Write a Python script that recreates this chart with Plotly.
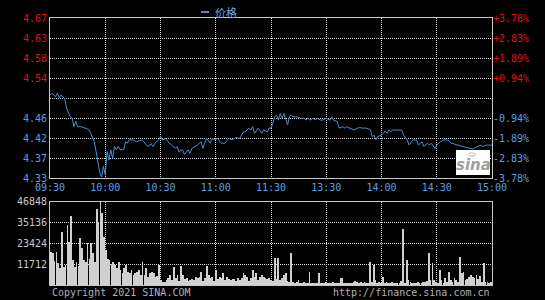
import plotly.graph_objects as go

# ---------------- data ----------------
price_minute = [0, 1, 3, 4, 5, 6, 8, 9, 11, 12, 13, 14, 15, 17, 19, 21, 22, 24, 25, 26, 27, 28, 29, 30,
                31, 32, 33, 34, 35, 36, 37, 38, 40, 41, 42, 43, 45, 47, 50, 51, 53, 55, 56, 57, 59, 60,
                61, 63, 64, 66, 68, 69, 70, 72, 73, 75, 76, 77, 79, 80, 82, 83, 84, 85, 87, 88, 89, 91,
                93, 95, 97, 99, 101, 103, 105, 106, 108, 109, 110, 111, 113, 115, 116, 118, 119, 120,
                121, 122, 123, 124, 125, 126, 127, 128, 129, 130, 131, 132, 134, 136, 138, 139, 140,
                141, 143, 144, 145, 147, 148, 150, 152, 153, 154, 156, 157, 159, 160, 161, 163, 165,
                167, 168, 170, 172, 174, 175, 176, 177, 178, 180, 181, 182, 183, 184, 185, 186, 189,
                191, 192, 194, 195, 196, 197, 199, 200, 202, 203, 205, 206, 207, 209, 210, 212, 214,
                216, 218, 221, 224, 228, 230, 232, 234, 235, 237, 240]
price = [4.506, 4.510, 4.503, 4.510, 4.501, 4.506, 4.499, 4.478, 4.460, 4.457, 4.439, 4.450, 4.439,
         4.439, 4.436, 4.433, 4.426, 4.408, 4.387, 4.368, 4.342, 4.332, 4.355, 4.338, 4.386, 4.368,
         4.390, 4.372, 4.397, 4.390, 4.397, 4.390, 4.390, 4.407, 4.404, 4.411, 4.411, 4.407, 4.411,
         4.407, 4.397, 4.402, 4.397, 4.404, 4.411, 4.418, 4.411, 4.414, 4.407, 4.400, 4.393, 4.397,
         4.386, 4.390, 4.380, 4.390, 4.382, 4.393, 4.397, 4.400, 4.407, 4.393, 4.404, 4.414, 4.404,
         4.414, 4.411, 4.414, 4.404, 4.404, 4.414, 4.411, 4.416, 4.414, 4.428, 4.428, 4.436, 4.432,
         4.439, 4.425, 4.436, 4.425, 4.432, 4.428, 4.436, 4.436, 4.446, 4.460, 4.464, 4.453, 4.467,
         4.457, 4.467, 4.457, 4.443, 4.460, 4.464, 4.460, 4.460, 4.457, 4.457, 4.453, 4.457, 4.453,
         4.457, 4.453, 4.457, 4.453, 4.453, 4.457, 4.453, 4.460, 4.453, 4.450, 4.436, 4.439, 4.436,
         4.439, 4.436, 4.432, 4.436, 4.437, 4.436, 4.436, 4.432, 4.418, 4.421, 4.411, 4.418, 4.421,
         4.425, 4.430, 4.425, 4.432, 4.428, 4.432, 4.432, 4.432, 4.421, 4.411, 4.400, 4.407, 4.411,
         4.411, 4.400, 4.407, 4.397, 4.404, 4.400, 4.404, 4.393, 4.400, 4.407, 4.411, 4.411, 4.404,
         4.400, 4.397, 4.393, 4.392, 4.397, 4.400, 4.397, 4.400, 4.400]

# volume per minute, thousands of shares (minute 0 .. 240)
volume_k = [18.8, 17.9, 13.7, 18.8, 12.2, 9.5, 30.1, 10.3, 11.3, 33.9, 24.5, 38.9, 14.1, 10.3, 13.2,
            11.0, 26.3, 20.7, 14.1, 13.2, 23.5, 14.8, 23.5, 17.9, 13.2, 42.7, 35.7, 46.8, 40.5, 27.3,
            19.7, 14.8, 14.1, 12.0, 13.2, 11.3, 9.4, 13.2, 8.5, 7.0, 9.4, 11.3, 7.5, 6.6, 8.5, 5.5,
            6.6, 7.5, 8.5, 5.6, 13.2, 5.6, 9.4, 4.8, 6.6, 7.5, 6.6, 4.7, 5.0, 11.3, 2.8, 1.9, 1.9, 2.8,
            3.8, 5.6, 3.0, 10.3, 3.8, 5.6, 2.5, 10.7, 5.6, 3.2, 3.8, 2.5, 2.8, 3.2, 2.6, 4.7, 3.8,
            4.3, 7.5, 2.5, 3.8, 10.7, 5.6, 3.8, 4.7, 2.4, 8.5, 3.2, 4.3, 3.8, 6.6, 2.6, 4.3, 3.2, 2.8,
            3.2, 3.2, 2.4, 3.8, 2.8, 3.8, 6.6, 5.6, 4.3, 2.5, 3.8, 8.5, 4.3, 6.6, 2.6, 4.7, 5.6, 4.3,
            3.8, 3.2, 3.8, 3.0, 2.0, 15.0, 3.2, 15.4, 2.8, 3.8, 5.6, 6.6, 2.4, 1.8, 18.3, 1.9, 1.3,
            1.9, 2.8, 1.2, 0.9, 1.9, 0.9, 1.4, 7.5, 1.3, 0.9, 1.1, 1.3, 6.6, 1.3, 0.9, 1.2, 1.9, 0.9,
            1.3, 1.0, 1.6, 0.9, 1.1, 1.3, 3.8, 3.8, 1.3, 1.1, 1.3, 0.9, 1.2, 1.6, 2.4, 1.9, 1.2, 1.6,
            1.3, 1.9, 1.0, 1.3, 13.2, 1.5, 11.3, 2.8, 1.3, 1.6, 1.0, 4.3, 1.3, 1.9, 1.3, 0.9, 1.6,
            1.3, 1.0, 1.3, 0.9, 2.4, 31.4, 1.2, 14.1, 2.8, 1.9, 1.3, 1.0, 1.3, 1.6, 1.3, 1.0, 1.6,
            1.9, 2.4, 17.9, 2.8, 12.2, 2.8, 1.5, 1.3, 8.5, 2.8, 1.3, 3.8, 1.5, 7.5, 2.8, 1.9, 3.8,
            2.8, 1.5, 16.0, 6.9, 7.5, 2.8, 3.2, 4.3, 5.6, 4.3, 3.8, 5.6, 3.2, 5.0, 1.5, 12.6, 1.9,
            1.5, 1.3, 1.6]
volume = [v * 1000 for v in volume_k]
volume_minute = list(range(len(volume)))

time_ticks = [0, 30, 60, 90, 120, 150, 180, 210, 240]
time_labels = ["09:30", "10:00", "10:30", "11:00", "11:30", "13:30", "14:00", "14:30", "15:00"]

prev_close = 4.50
price_ticks = [4.33, 4.3725, 4.415, 4.4575, 4.50, 4.5425, 4.585, 4.6275, 4.67]
price_labels = ["4.33", "4.37", "4.42", "4.46", "", "4.54", "4.58", "4.63", "4.67"]
pct_labels = ["-3.78%", "-2.83%", "-1.89%", "-0.94%", "", "+0.94%", "+1.89%", "+2.83%", "+3.78%"]

vol_ticks = [11712, 23424, 35136, 46848]
vol_labels = ["11712", "23424", "35136", "46848"]

# ---------------- style ----------------
RED = "#e01010"
BLUE = "#5aa0e0"
GRAY = "#c8c8c8"
MONO = "DejaVu Sans Mono"


def colored(labels, ticks):
    out = []
    for lab, t in zip(labels, ticks):
        if not lab:
            out.append("")
        else:
            c = RED if t > prev_close else BLUE
            out.append(f'<span style="color:{c}">{lab}</span>')
    return out


fig = go.Figure()

fig.add_trace(go.Scatter(
    x=price_minute, y=price, mode="lines", name="价格",
    line=dict(color="#4a8fd2", width=1), xaxis="x", yaxis="y", showlegend=False,
))
fig.add_trace(go.Scatter(
    x=[None], y=[None], mode="lines", xaxis="x", yaxis="y3", showlegend=False,
))
fig.add_trace(go.Bar(
    x=volume_minute, y=volume, marker=dict(color="#d0d0d0", line=dict(width=0)),
    width=0.42, xaxis="x2", yaxis="y2", showlegend=False,
))

grid = dict(showgrid=True, gridcolor="#d8d8d8", gridwidth=1, griddash="1px,1px")
frame = dict(showline=True, linecolor=GRAY, linewidth=1, mirror=True, zeroline=False)

fig.update_layout(
    width=545, height=300, autosize=False,
    paper_bgcolor="black", plot_bgcolor="black",
    margin=dict(l=50, r=53, t=18, b=15, autoexpand=False),
    bargap=0,
    font=dict(family=MONO, size=10, color=GRAY),
    xaxis=dict(domain=[0, 1], anchor="y", range=[0, 240], tickvals=time_ticks,
               ticktext=time_labels, tickfont=dict(color=BLUE, size=10, family=MONO),
               ticks="", **grid, **frame),
    yaxis=dict(domain=[0.4007, 1], anchor="x", range=[4.33, 4.67], tickvals=price_ticks,
               ticktext=colored(price_labels, price_ticks), ticks="",
               tickfont=dict(size=10, family=MONO), **grid, **frame),
    yaxis3=dict(overlaying="y", side="right", anchor="x", range=[4.33, 4.67],
                tickvals=price_ticks, ticktext=colored(pct_labels, price_ticks), ticks="",
                tickfont=dict(size=10, family=MONO), showgrid=False, zeroline=False),
    xaxis2=dict(domain=[0, 1], anchor="y2", range=[-0.5, 240.5], tickvals=time_ticks,
                showticklabels=False, ticks="", **grid, **frame),
    yaxis2=dict(domain=[0, 0.3109], anchor="x2", range=[0, 46848], tickvals=vol_ticks,
                ticktext=vol_labels, ticks="", tickfont=dict(color=GRAY, size=10, family=MONO),
                **grid, **frame),
)

# legend-like header
fig.add_shape(type="line", xref="paper", yref="paper", x0=(201 - 50) / 442, x1=(209 - 50) / 442,
              y0=(285 - 12) / 267, y1=(285 - 12) / 267, line=dict(color="#4a8fd2", width=2))
fig.add_annotation(xref="paper", yref="paper", x=(213 - 50) / 442, y=(285 - 12) / 267,
                   text="价格", showarrow=False, xanchor="left", yanchor="middle",
                   font=dict(family="Noto Sans CJK SC", size=11, color="#6fa8dc"))

# footer
fig.add_annotation(xref="paper", yref="paper", x=0, y=(285 - 292) / 267,
                   text="Copyright 2021 SINA.COM", showarrow=False, xanchor="left",
                   yanchor="middle", font=dict(family=MONO, size=10, color="#b0b0b0"))
fig.add_annotation(xref="paper", yref="paper", x=1, y=(285 - 292) / 267,
                   text="http://finance.sina.com.cn", showarrow=False, xanchor="right",
                   yanchor="middle", font=dict(family=MONO, size=10, color="#b0b0b0"))

# sina logo
fig.add_shape(type="rect", xref="paper", yref="paper",
              x0=(456 - 50) / 442, x1=(490 - 50) / 442,
              y0=(285 - 175) / 267, y1=(285 - 150) / 267,
              fillcolor="white", line=dict(width=0), layer="above")
fig.add_shape(type="circle", xref="paper", yref="paper",
              x0=(468 - 50) / 442, x1=(476 - 50) / 442,
              y0=(285 - 156) / 267, y1=(285 - 153) / 267,
              fillcolor="rgba(0,0,0,0)", line=dict(color="#f0a0a0", width=1), layer="above")
fig.add_annotation(xref="paper", yref="paper", x=(473 - 50) / 442, y=(285 - 165) / 267,
                   text="<b><i>sina</i></b>", showarrow=False, xanchor="center", yanchor="middle",
                   font=dict(family="DejaVu Sans", size=15, color="#a0a0a0"))

fig.write_html("out.html")
